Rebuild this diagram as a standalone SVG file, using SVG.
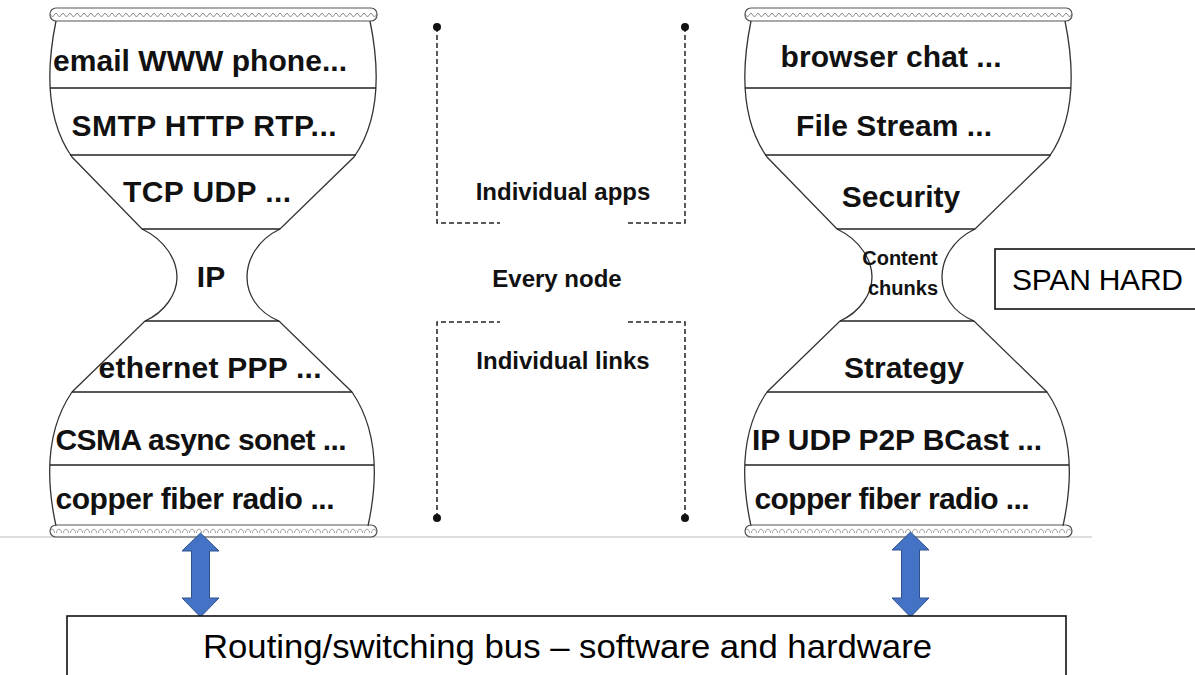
<svg xmlns="http://www.w3.org/2000/svg" width="1195" height="675" viewBox="0 0 1195 675">
<style>
.outline{fill:none;stroke:#333;stroke-width:1.3}
.row{stroke:#222;stroke-width:1.6}
.cap{stroke:#555;stroke-width:1.2}
.lbl{font-family:"Liberation Sans",Arial,sans-serif;font-weight:bold;font-size:30px;fill:#111;text-anchor:middle}
.small{font-size:20px}
.mid{font-family:"Liberation Sans",Arial,sans-serif;font-weight:bold;font-size:24px;fill:#111;text-anchor:middle}
.dash{fill:none;stroke:#222;stroke-width:1.5;stroke-dasharray:5 3}
.dot{fill:#111}
.arrow{fill:#4472C4;stroke:#2F528F;stroke-width:1}
.box{fill:#fff;stroke:#111;stroke-width:1.6}
.plain{font-family:"Liberation Sans",Arial,sans-serif;fill:#000}
</style>
<defs>
<pattern id="zzTop" patternUnits="userSpaceOnUse" x="0" y="8" width="7" height="13">
<polyline points="0,5 3.5,9 7,5" fill="none" stroke="#888" stroke-width="1"/>
</pattern>
<pattern id="zzBot" patternUnits="userSpaceOnUse" x="0" y="525" width="7" height="12">
<path d="M0.5,8 C0.5,3 5.5,3 5.5,8" fill="none" stroke="#999" stroke-width="1"/>
</pattern>
<g id="glass">
<rect class="cap" x="50" y="8" width="327" height="13" rx="6" fill="url(#zzTop)"/>
<path class="outline" d="M56,21 C46,70 46,120 72,157 L142,229 C165,240 177,260 177,277 C177,294 165,312 145,321 L72,392 C46,430 46,480 56,526"/>
<path class="outline" d="M370,21 C380,70 380,120 354,157 L280,229 C257,240 247,260 247,277 C247,294 257,312 279,321 L352,392 C378,430 378,480 368,526"/>
<line class="row" x1="50" y1="88" x2="376" y2="88"/>
<line class="row" x1="70" y1="155" x2="356" y2="155"/>
<line class="row" x1="142" y1="229" x2="280" y2="229"/>
<line class="row" x1="145" y1="321" x2="279" y2="321"/>
<line class="row" x1="72" y1="392" x2="352" y2="392"/>
<line class="row" x1="50" y1="465" x2="374" y2="465"/>
<rect class="cap" x="50" y="525" width="327" height="12" rx="6" fill="url(#zzBot)"/>
</g>
</defs>
<rect width="1195" height="675" fill="#fff"/>
<line x1="0" y1="537" x2="1092" y2="537" stroke="#bbb" stroke-width="1.2"/>

<g id="internet-hourglass">
<use href="#glass"/>
<text class="lbl" x="200" y="71" textLength="294">email WWW phone...</text>
<text class="lbl" x="204" y="136" textLength="265">SMTP HTTP RTP...</text>
<text class="lbl" x="207" y="202" textLength="168">TCP UDP ...</text>
<text class="lbl" x="211" y="287">IP</text>
<text class="lbl" x="210" y="378" textLength="223">ethernet PPP ...</text>
<text class="lbl" x="201" y="450" textLength="291">CSMA async sonet ...</text>
<text class="lbl" x="195" y="509" textLength="279">copper fiber radio ...</text>
</g>

<g id="content-hourglass">
<use href="#glass" transform="translate(695,0)"/>
<text class="lbl" x="891" y="67" textLength="221">browser chat ...</text>
<text class="lbl" x="894" y="136" textLength="196">File Stream ...</text>
<text class="lbl" x="901" y="207">Security</text>
<text class="lbl small" x="900" y="265">Content</text>
<text class="lbl small" x="903" y="295">chunks</text>
<text class="lbl" x="904" y="378">Strategy</text>
<text class="lbl" x="897" y="450" textLength="290">IP UDP P2P BCast ...</text>
<text class="lbl" x="892" y="509" textLength="275">copper fiber radio ...</text>
</g>

<g id="scope-brackets">
<path class="dash" d="M437,27 V223 H500"/>
<path class="dash" d="M685,27 V223 H627"/>
<path class="dash" d="M437,518 V322 H500"/>
<path class="dash" d="M685,518 V322 H627"/>
<circle class="dot" cx="437" cy="27" r="4"/>
<circle class="dot" cx="685" cy="27" r="4"/>
<circle class="dot" cx="437" cy="518" r="4"/>
<circle class="dot" cx="685" cy="518" r="4"/>
</g>

<g id="middle-labels">
<text class="mid" x="563" y="200">Individual apps</text>
<text class="mid" x="557" y="287">Every node</text>
<text class="mid" x="563" y="369">Individual links</text>
</g>

<g id="span-hard">
<rect class="box" x="995" y="249" width="210" height="60"/>
<text class="plain" x="1012" y="290" font-size="30" textLength="171">SPAN HARD</text>
</g>

<g id="connectors">
<path class="arrow" d="M200.5,533 L219,551 L209.5,551 L209.5,598 L219,598 L200.5,617 L182,598 L191.5,598 L191.5,551 L182,551 Z"/>
<path class="arrow" d="M910.5,532 L929,550 L919.5,550 L919.5,598 L929,598 L910.5,617 L892,598 L901.5,598 L901.5,550 L892,550 Z"/>
</g>

<g id="routing-bus">
<rect class="box" x="67" y="616" width="999" height="80"/>
<text class="plain" x="567.5" y="658" font-size="34" text-anchor="middle" textLength="729" lengthAdjust="spacingAndGlyphs">Routing/switching bus – software and hardware</text>
</g>
</svg>
